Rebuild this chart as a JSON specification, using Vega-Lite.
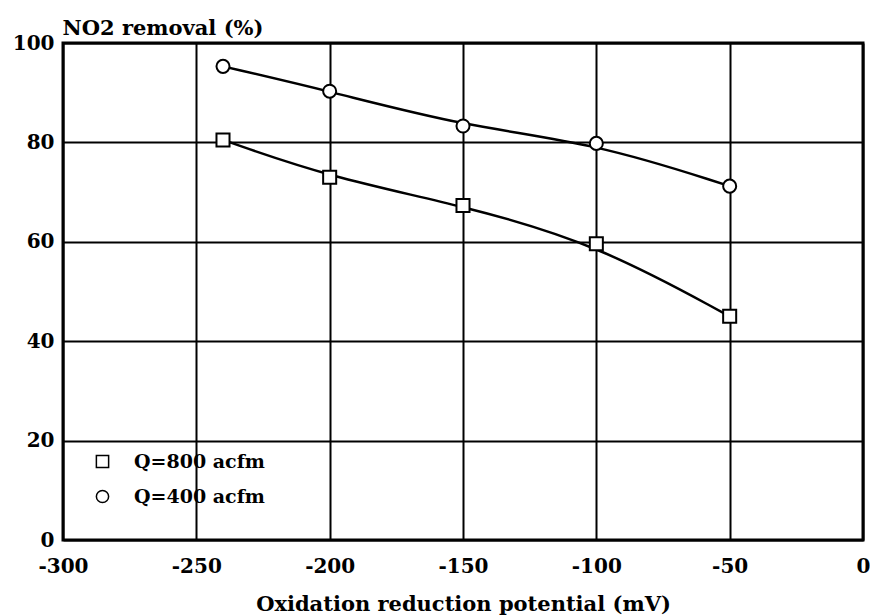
{
  "$schema": "https://vega.github.io/schema/vega-lite/v6.json",
  "width": 800,
  "height": 497,
  "autosize": {"type": "none"},
  "padding": {"left": 63, "top": 43, "right": 7, "bottom": 76},
  "background": "white",
  "config": {
    "view": {"stroke": "black", "strokeWidth": 3},
    "font": "DejaVu Serif",
    "axis": {
      "gridColor": "black",
      "gridWidth": 2,
      "gridOpacity": 1,
      "domain": false,
      "ticks": false,
      "labelFont": "DejaVu Serif",
      "labelFontWeight": "bold",
      "labelFontSize": 20,
      "labelColor": "black",
      "labelExpr": "toString(datum.value)",
      "titleFont": "DejaVu Serif",
      "titleFontWeight": "bold",
      "titleFontSize": 20,
      "titleColor": "black"
    }
  },
  "data": {
    "values": [
      {"orp": -240, "removal": 80.5, "series": "Q=800 acfm"},
      {"orp": -200, "removal": 73, "series": "Q=800 acfm"},
      {"orp": -150, "removal": 67.3, "series": "Q=800 acfm"},
      {"orp": -100, "removal": 59.6, "series": "Q=800 acfm"},
      {"orp": -50, "removal": 45, "series": "Q=800 acfm"},
      {"orp": -240, "removal": 95.3, "series": "Q=400 acfm"},
      {"orp": -200, "removal": 90.3, "series": "Q=400 acfm"},
      {"orp": -150, "removal": 83.3, "series": "Q=400 acfm"},
      {"orp": -100, "removal": 79.8, "series": "Q=400 acfm"},
      {"orp": -50, "removal": 71.2, "series": "Q=400 acfm"}
    ]
  },
  "encoding": {
    "x": {
      "field": "orp",
      "type": "quantitative",
      "scale": {"domain": [-300, 0], "nice": false},
      "axis": {
        "values": [-300, -250, -200, -150, -100, -50, 0],
        "labelPadding": 16,
        "title": "Oxidation reduction potential (mV)",
        "titleY": 70,
        "titleBaseline": "alphabetic",
        "titleFontSize": 21,
        "labelFlush": false
      }
    },
    "y": {
      "field": "removal",
      "type": "quantitative",
      "scale": {"domain": [0, 100], "nice": false},
      "axis": {
        "values": [0, 20, 40, 60, 80, 100],
        "labelPadding": 9,
        "title": "NO2 removal (%)",
        "titleAngle": 0,
        "titleAlign": "left",
        "titleBaseline": "alphabetic",
        "titleX": -1,
        "titleY": -9,
        "titleFontSize": 21,
        "labelFlush": false
      }
    }
  },
  "layer": [
    {
      "mark": {"type": "line", "color": "black", "strokeWidth": 2.5, "interpolate": "basis"},
      "encoding": {"detail": {"field": "series"}}
    },
    {
      "mark": {"type": "point", "filled": false, "stroke": "black", "strokeWidth": 2, "size": 170, "opacity": 1, "fill": "white"},
      "encoding": {
        "shape": {
          "field": "series",
          "type": "nominal",
          "scale": {"domain": ["Q=800 acfm", "Q=400 acfm"], "range": ["square", "circle"]},
          "legend": {
            "title": null,
            "orient": "none",
            "legendX": 30,
            "legendY": 409,
            "padding": 0,
            "symbolSize": 150,
            "labelFont": "DejaVu Serif",
            "labelFontWeight": "bold",
            "labelFontSize": 19,
            "labelColor": "black",
            "labelOffset": 22,
            "rowPadding": 15,
            "encode": {
              "symbols": {
                "update": {
                  "stroke": {"value": "black"},
                  "strokeWidth": {"value": 3},
                  "fill": {"value": "white"},
                  "opacity": {"value": 1},
                  "fillOpacity": {"value": 1},
                  "strokeOpacity": {"value": 1}
                }
              }
            }
          }
        }
      }
    }
  ]
}
